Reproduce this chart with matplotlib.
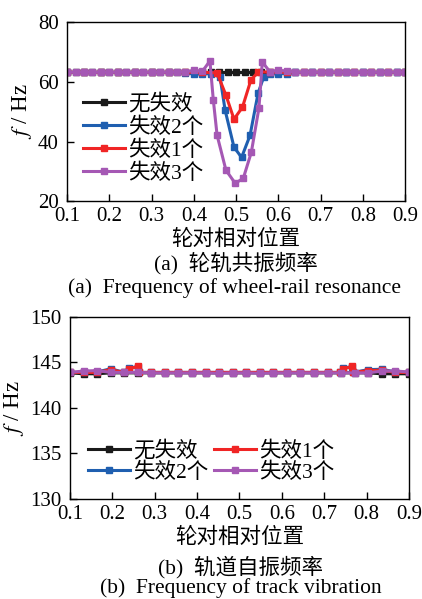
import matplotlib
matplotlib.use('Agg')
import matplotlib.pyplot as plt

plt.rcParams['font.family'] = ['Liberation Serif', 'Noto Sans CJK SC']
plt.rcParams['mathtext.fontset'] = 'stix'

labels = ['无失效', '失效2个', '失效1个', '失效3个']
colors = ['#1a1a1a', '#1f5fb0', '#f02525', '#a558b4']

# (a) wheel-rail resonance frequency
grid_a = [0.10, 0.12, 0.14, 0.16, 0.18, 0.20, 0.22, 0.24, 0.26, 0.28, 0.30,
          0.32, 0.34, 0.36, 0.38, 0.40, 0.42, 0.44, 0.46, 0.48, 0.50, 0.52,
          0.54, 0.56, 0.58, 0.60, 0.62, 0.64, 0.66, 0.68, 0.70, 0.72, 0.74,
          0.76, 0.78, 0.80, 0.82, 0.84, 0.86, 0.88, 0.90]
black_a = [63.2] * 41

blue_xa = [0.10, 0.14, 0.18, 0.22, 0.26, 0.30, 0.34, 0.38, 0.40, 0.42, 0.44,
           0.462, 0.474, 0.495, 0.513, 0.533, 0.552, 0.565, 0.58, 0.60, 0.62,
           0.64, 0.68, 0.72, 0.76, 0.80, 0.84, 0.88, 0.90]
blue_ya = [63.2, 63.2, 63.2, 63.2, 63.2, 63.2, 63.2, 63.0, 62.7, 62.7, 62.8,
           61.6, 50.5, 38.1, 34.7, 42.1, 56.2, 61.5, 62.8, 62.8, 62.8,
           63.2, 63.2, 63.2, 63.2, 63.2, 63.2, 63.2, 63.2]

red_xa = [0.10, 0.14, 0.18, 0.22, 0.26, 0.30, 0.34, 0.38, 0.42, 0.455,
          0.476, 0.495, 0.515, 0.535, 0.552, 0.58, 0.62, 0.66, 0.70, 0.74,
          0.78, 0.82, 0.86, 0.90]
red_ya = [63.2, 63.2, 63.2, 63.2, 63.2, 63.2, 63.2, 63.2, 63.2, 63.0,
          55.5, 47.5, 51.5, 60.6, 63.3, 63.3, 63.2, 63.2, 63.2, 63.2,
          63.2, 63.2, 63.2, 63.2]

purple_xa = [0.10, 0.12, 0.14, 0.16, 0.18, 0.20, 0.22, 0.24, 0.26, 0.28, 0.30,
             0.32, 0.34, 0.36, 0.38, 0.40, 0.42, 0.438, 0.446, 0.455, 0.476,
             0.498, 0.517, 0.536, 0.554, 0.562, 0.58, 0.60, 0.62, 0.64, 0.66,
             0.68, 0.70, 0.72, 0.74, 0.76, 0.78, 0.80, 0.82, 0.84, 0.86, 0.88,
             0.90]
purple_ya = [63.2, 63.2, 63.2, 63.2, 63.2, 63.2, 63.2, 63.2, 63.2, 63.2, 63.2,
             63.2, 63.2, 63.2, 63.3, 63.9, 63.5, 67.0, 54.0, 42.1, 30.4,
             26.0, 27.7, 36.4, 51.2, 66.6, 63.4, 63.9, 63.6, 63.2, 63.2,
             63.2, 63.2, 63.2, 63.2, 63.2, 63.2, 63.2, 63.2, 63.2, 63.2, 63.2,
             63.2]

# (b) track natural frequency
grid_b = [0.100, 0.132, 0.164, 0.196, 0.228, 0.260, 0.292, 0.324, 0.356,
          0.388, 0.420, 0.452, 0.484, 0.516, 0.548, 0.580, 0.612, 0.644,
          0.676, 0.708, 0.740, 0.772, 0.804, 0.836, 0.868, 0.900]
black_b = [143.85, 143.75, 143.75, 143.85, 143.85, 143.85, 143.85, 143.85,
           143.85, 143.85, 143.85, 143.85, 143.85, 143.85, 143.85, 143.85,
           143.85, 143.85, 143.85, 143.85, 143.85, 143.85, 143.85, 143.75,
           143.75, 143.75]

blue_xb = [0.100, 0.132, 0.164, 0.196, 0.228, 0.238, 0.260, 0.262, 0.292,
           0.324, 0.356, 0.388, 0.420, 0.452, 0.484, 0.516, 0.548, 0.580,
           0.612, 0.644, 0.676, 0.708, 0.738, 0.744, 0.766, 0.768, 0.804,
           0.836, 0.868, 0.900]
blue_yb = [143.9, 143.9, 143.95, 144.3, 143.9, 144.4, 144.5, 143.9, 143.9,
           143.9, 143.9, 143.9, 143.9, 143.9, 143.9, 143.9, 143.9, 143.9,
           143.9, 143.9, 143.9, 143.9, 143.9, 144.4, 144.5, 143.9, 144.2,
           144.25, 143.95, 143.9]

red_xb = [0.100, 0.132, 0.164, 0.196, 0.228, 0.238, 0.260, 0.262, 0.292,
          0.324, 0.356, 0.388, 0.420, 0.452, 0.484, 0.516, 0.548, 0.580,
          0.612, 0.644, 0.676, 0.708, 0.738, 0.744, 0.766, 0.768, 0.804,
          0.836, 0.868, 0.900]
red_yb = [143.9, 143.9, 143.9, 144.2, 143.9, 144.3, 144.55, 143.9, 143.9,
          143.9, 143.9, 143.9, 143.9, 143.9, 143.9, 143.9, 143.9, 143.9,
          143.9, 143.9, 143.9, 143.9, 143.9, 144.3, 144.55, 143.9, 144.1,
          144.15, 143.9, 143.9]

purple_b = [143.9, 144.05, 144.1, 143.9, 143.9, 143.9, 143.85, 143.85, 143.85,
            143.85, 143.85, 143.8, 143.85, 143.85, 143.8, 143.85, 143.85,
            143.85, 143.85, 143.85, 143.85, 143.85, 143.85, 144.05, 144.05,
            143.95]

fig = plt.figure(figsize=(4.22, 5.99), dpi=100)
ax1 = fig.add_axes([0.159, 0.664, 0.801, 0.299])
ax2 = fig.add_axes([0.166, 0.167, 0.803, 0.304])

style = dict(lw=2.2, marker='s', ms=4.5)

ax1.plot(grid_a, black_a, color=colors[0], label=labels[0], **style)
ax1.plot(blue_xa, blue_ya, color=colors[1], label=labels[1], **style)
ax1.plot(red_xa, red_ya, color=colors[2], label=labels[2], **style)
ax1.plot(purple_xa, purple_ya, color=colors[3], label=labels[3], **style)

ax2.plot(grid_b, black_b, color=colors[0], label=labels[0], **style)
ax2.plot(blue_xb, blue_yb, color=colors[1], label=labels[1], **style)
ax2.plot(red_xb, red_yb, color=colors[2], label=labels[2], **style)
ax2.plot(grid_b, purple_b, color=colors[3], label=labels[3], **style)

ax1.set_xlim(0.1, 0.9)
ax1.set_ylim(20, 80)
ax1.set_yticks([20, 40, 60, 80])
ax2.set_xlim(0.1, 0.9)
ax2.set_ylim(130, 150)
ax2.set_yticks([130, 135, 140, 145, 150])

for ax in (ax1, ax2):
    ax.set_xticks([0.1, 0.2, 0.3, 0.4, 0.5, 0.6, 0.7, 0.8, 0.9])
    ax.tick_params(direction='in', length=5, width=1, labelsize=15)
    ax.tick_params(axis='x', pad=4)
    ax.tick_params(axis='y', pad=6)
    for s in ax.spines.values():
        s.set_linewidth(1)
    ax.set_ylabel('$f$ / Hz', fontsize=16.5, labelpad=3)
    ax.set_xlabel('轮对相对位置', fontsize=15.5, labelpad=3)

ax1.legend(loc='upper left', bbox_to_anchor=(0.047, 0.60), frameon=False,
           fontsize=15.5, handlelength=1.95, handletextpad=0.15,
           labelspacing=0.12, borderaxespad=0, borderpad=0)
ax2.legend(loc='lower left', bbox_to_anchor=(0.053, 0.088), frameon=False,
           ncol=2, fontsize=15.5, handlelength=1.95, handletextpad=0.15,
           labelspacing=0.03, columnspacing=0.25, borderaxespad=0,
           borderpad=0)

fig.text(236 / 422, 1 - 263 / 599, '(a)  轮轨共振频率', ha='center', va='center',
         fontsize=15.5)
fig.text(235 / 422, 1 - 288 / 599, '(a)  Frequency of wheel-rail resonance',
         ha='center', va='center', fontsize=15.5)
fig.text(240 / 422, 1 - 567 / 599, '(b)  轨道自振频率', ha='center', va='center',
         fontsize=15.5)
fig.text(241 / 422, 1 - 588 / 599, '(b)  Frequency of track vibration',
         ha='center', va='center', fontsize=15.5)

fig.savefig('out.png', dpi=100)
